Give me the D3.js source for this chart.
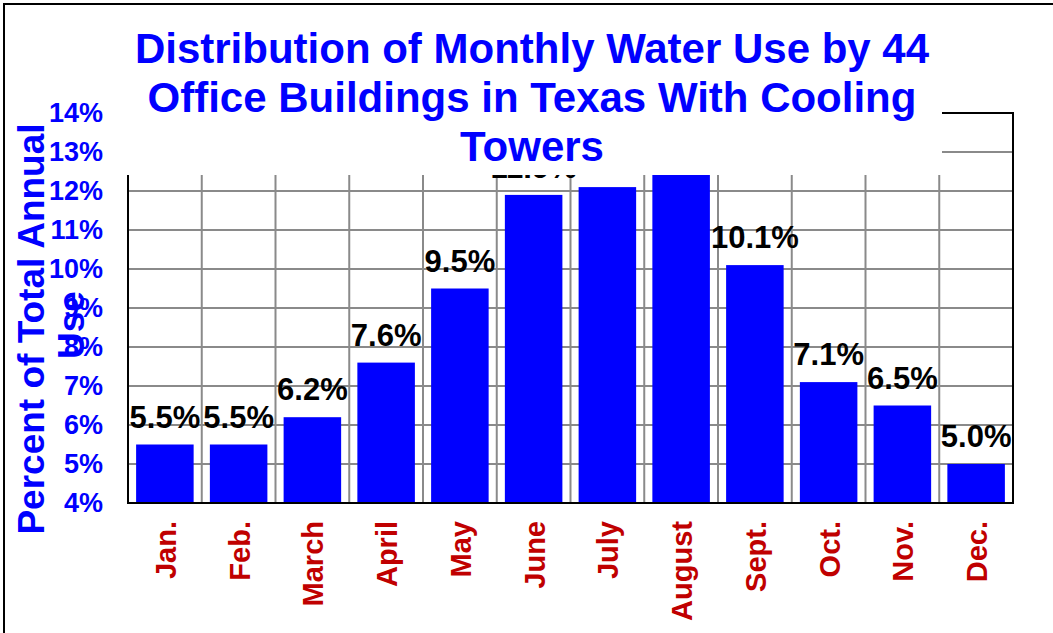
<!DOCTYPE html>
<html>
<head>
<meta charset="utf-8">
<script src="https://cdn.jsdelivr.net/npm/d3@7"></script>
<style>
  body { margin: 0; background: #fff; }
  svg { display: block; font-family: "Liberation Sans", Arial, sans-serif; }
</style>
</head>
<body>
<svg width="1053" height="633"></svg>
<script>
// données
const months = ["Jan.", "Feb.", "March", "April", "May", "June", "July", "August", "Sept.", "Oct.", "Nov.", "Dec."];
const shares = [5.5, 5.5, 6.2, 7.6, 9.5, 11.9, 12.1, 12.6, 10.1, 7.1, 6.5, 5.0];
const yTicks = [4, 5, 6, 7, 8, 9, 10, 11, 12, 13, 14];
const titleLines = ["Distribution of Monthly Water Use by 44", "Office Buildings in Texas With Cooling", "Towers"];

const svg = d3.select("svg");

// cadre extérieur
svg.append("rect")
    .attr("x", 4).attr("y", 4)
    .attr("width", 1080).attr("height", 700)
    .style("fill", "none").style("stroke", "#000").style("stroke-width", "2px");

const plotLeft = 128, plotRight = 1013, plotTop = 113, plotBottom = 503;

const x = d3.scaleBand().domain(months).range([plotLeft, plotRight]).paddingInner(0.22).paddingOuter(0.11);
const y = d3.scaleLinear().domain([4, 14]).range([plotBottom, plotTop]);

// grille horizontale
svg.selectAll(".hgrid")
    .data(yTicks)
    .enter().append("line")
    .attr("x1", plotLeft).attr("x2", plotRight)
    .attr("y1", d => y(d)).attr("y2", d => y(d))
    .style("stroke", "#8a8a8a").style("stroke-width", "2px");

// grille verticale entre les catégories
const step = x.step();
svg.selectAll(".vgrid")
    .data(months.slice(1))
    .enter().append("line")
    .attr("x1", (d, i) => plotLeft + step * (i + 1))
    .attr("x2", (d, i) => plotLeft + step * (i + 1))
    .attr("y1", plotTop).attr("y2", plotBottom)
    .style("stroke", "#8a8a8a").style("stroke-width", "2px");

// barres
svg.selectAll(".bar")
    .data(shares)
    .enter().append("rect")
    .attr("x", (d, i) => x(months[i]))
    .attr("width", x.bandwidth())
    .attr("y", d => y(d))
    .attr("height", d => y(4) - y(d))
    .style("fill", "#0000ff");

// étiquettes des valeurs
svg.selectAll(".val")
    .data(shares)
    .enter().append("text")
    .attr("x", (d, i) => x(months[i]) + x.bandwidth() / 2)
    .attr("y", d => y(d) - 17)
    .attr("text-anchor", "middle")
    .style("font-size", "31px").style("font-weight", "bold").style("fill", "#000")
    .text(d => d.toFixed(1) + "%");

// bordure de la zone de tracé
svg.append("rect")
    .attr("x", plotLeft).attr("y", plotTop)
    .attr("width", plotRight - plotLeft).attr("height", plotBottom - plotTop)
    .style("fill", "none").style("stroke", "#000").style("stroke-width", "2px");

// boîte blanche du titre (recouvre le haut du graphique)
svg.append("rect")
    .attr("x", 118).attr("y", 14)
    .attr("width", 942 - 118).attr("height", 175 - 14)
    .style("fill", "#fff");

svg.selectAll(".title")
    .data(titleLines)
    .enter().append("text")
    .attr("x", 532)
    .attr("y", (d, i) => 63 + i * 49)
    .attr("text-anchor", "middle")
    .style("font-size", "42px").style("font-weight", "bold").style("fill", "#0000ff")
    .text(d => d);

// axe Y
svg.selectAll(".ytick")
    .data(yTicks)
    .enter().append("text")
    .attr("x", 103)
    .attr("y", d => y(d) + 9)
    .attr("text-anchor", "end")
    .style("font-size", "27px").style("font-weight", "bold").style("fill", "#0000ff")
    .text(d => d + "%");

svg.append("text")
    .attr("transform", "translate(44,329) rotate(-90)")
    .attr("text-anchor", "middle")
    .style("font-size", "37px").style("font-weight", "bold").style("fill", "#0000ff")
    .text("Percent of Total Annual");

svg.append("text")
    .attr("transform", "translate(84,325) rotate(-90)")
    .attr("text-anchor", "middle")
    .style("font-size", "37px").style("font-weight", "bold").style("fill", "#0000ff")
    .text("Use");

// libellés des mois
svg.selectAll(".month")
    .data(months)
    .enter().append("text")
    .attr("transform", d => `translate(${x(d) + x.bandwidth() / 2 + 11},521) rotate(-90)`)
    .attr("text-anchor", "end")
    .style("font-size", "29px").style("font-weight", "bold").style("fill", "#c00000")
    .text(d => d);
</script>
</body>
</html>
